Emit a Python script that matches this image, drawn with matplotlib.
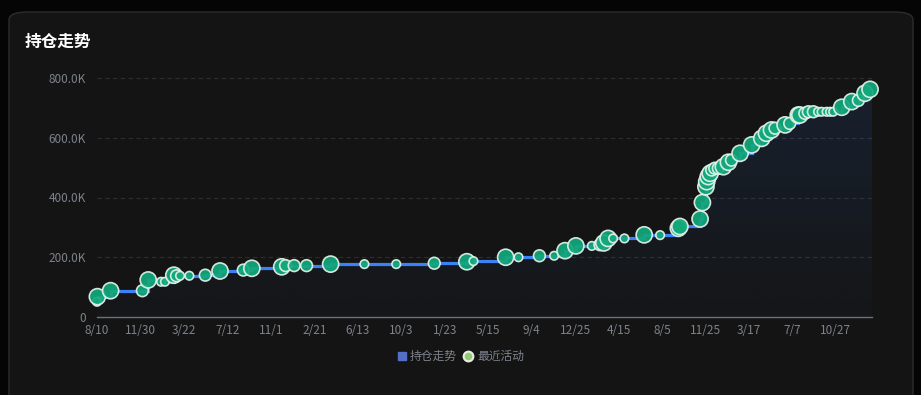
import datetime as dt

import matplotlib.dates as mdates
import matplotlib.pyplot as plt
import numpy as np
from matplotlib.patches import FancyBboxPatch
from matplotlib.ticker import FuncFormatter, MultipleLocator

plt.rcParams["font.family"] = ["Noto Sans CJK SC", "DejaVu Sans"]

title = "持仓走势"
series_line = "持仓走势"
series_dots = "最近活动"

# holding value at each recent activity (date, value), activity size 1..3
dates = [
    "2020-08-10", "2020-08-11", "2020-09-14", "2020-12-05", "2020-12-20",
    "2021-01-22", "2021-02-01", "2021-02-24", "2021-03-03", "2021-03-12",
    "2021-04-05", "2021-05-16", "2021-06-23", "2021-08-22", "2021-09-13",
    "2021-11-29", "2021-12-09", "2021-12-31", "2022-02-01", "2022-04-04",
    "2022-06-30", "2022-09-20", "2022-12-27", "2023-03-21", "2023-04-07",
    "2023-06-29", "2023-08-01", "2023-09-24", "2023-11-01", "2023-11-29",
    "2023-12-27", "2024-02-06", "2024-02-27", "2024-03-08", "2024-03-19",
    "2024-04-01", "2024-04-30", "2024-06-20", "2024-07-31", "2024-09-16",
    "2024-09-20", "2024-11-11", "2024-11-17", "2024-11-26", "2024-11-28",
    "2024-12-02", "2024-12-07", "2024-12-11", "2024-12-19", "2024-12-28",
    "2025-01-10", "2025-01-23", "2025-01-31", "2025-02-22", "2025-03-24",
    "2025-04-19", "2025-05-01", "2025-05-14", "2025-05-23", "2025-06-18",
    "2025-06-30", "2025-07-22", "2025-07-26", "2025-08-08", "2025-08-17",
    "2025-08-30", "2025-09-11", "2025-09-20", "2025-10-03", "2025-10-12",
    "2025-10-20", "2025-11-11", "2025-12-07", "2025-12-24", "2026-01-10",
    "2026-01-23",
]
values = [
    51, 68, 88, 88, 124, 118, 118, 140, 138, 138,
    138, 140, 154, 157, 163, 168, 172, 172, 172, 177,
    177, 177, 180, 185, 187, 200, 200, 205, 205, 222,
    238, 238, 242, 248, 263, 263, 263, 275, 274, 297,
    303, 328, 383, 436, 453, 470, 481, 492, 498, 498,
    503, 518, 525, 548, 576, 598, 615, 626, 632, 643,
    648, 676, 676, 682, 687, 687, 687, 687, 687, 687,
    687, 702, 721, 725, 749, 762,
]
activity = [
    1, 3, 3, 2, 3, 1, 1, 3, 2, 1,
    1, 2, 3, 2, 3, 3, 2, 2, 2, 3,
    1, 1, 2, 3, 1, 3, 1, 2, 1, 3,
    3, 1, 2, 3, 3, 1, 1, 3, 1, 3,
    3, 3, 3, 3, 3, 3, 3, 2, 2, 2,
    3, 3, 2, 3, 3, 3, 3, 3, 2, 3,
    2, 3, 3, 2, 2, 2, 1, 1, 1, 1,
    1, 3, 3, 2, 3, 3,
]

x = [dt.datetime.strptime(d, "%Y-%m-%d") for d in dates]
y = np.array(values) * 1000.0
start = x[0]
end = x[-1] + dt.timedelta(days=5)

fig = plt.figure(figsize=(9.21, 3.95), dpi=100, facecolor="#050505")

# card background
card = FancyBboxPatch(
    (9 / 921, -0.05), 904 / 921, 1.05 - 12 / 395,
    boxstyle="round,pad=0,rounding_size=0.02",
    transform=fig.transFigure, facecolor="#141414",
    edgecolor="#2c2c2e", linewidth=1.0, zorder=-5,
)
fig.patches.append(card)
fig.text(25 / 921, 1 - 42 / 395, title, color="white", fontsize=12,
         fontweight="bold", va="center", ha="left")

ax = fig.add_axes([97 / 921, 1 - 317 / 395, 775 / 921, 239 / 395])
ax.set_facecolor("none")

# gradient area under the step line
xs = mdates.date2num(x + [end])
ys = np.append(y, y[-1])
poly = ax.fill_between(xs, ys, 0, step="post", facecolor="none", edgecolor="none")
grad = np.linspace(0.02, 0.12, 256).reshape(-1, 1)
rgba = np.zeros((256, 1, 4))
rgba[..., 0] = 59 / 255
rgba[..., 1] = 130 / 255
rgba[..., 2] = 246 / 255
rgba[..., 3] = grad
img = ax.imshow(rgba, extent=[xs[0], xs[-1], 0, 800000], origin="lower",
                aspect="auto", zorder=1)
img.set_clip_path(poly.get_paths()[0], transform=ax.transData)

ax.step(xs[:-1], y, where="post", color="#3b82f6", linewidth=2.3,
        zorder=2, solid_joinstyle="miter")

size_map = {1: 38, 2: 72, 3: 135}
ax.scatter(x, y, s=[size_map[a] for a in activity], facecolor="#12a97c",
           edgecolor="#e3f3ea", linewidth=1.2, alpha=0.92, zorder=3,
           clip_on=False)

ax.set_ylim(0, 800000)
ax.set_xlim(mdates.date2num(start), mdates.date2num(end))
ax.yaxis.set_major_locator(MultipleLocator(200000))
ax.yaxis.set_major_formatter(
    FuncFormatter(lambda v, p: "0" if v == 0 else f"{v / 1000:.1f}K"))

ticks = [start + dt.timedelta(days=112 * i) for i in range(18)]
ax.set_xticks(mdates.date2num(ticks))
ax.set_xticklabels([f"{t.month}/{t.day}" for t in ticks])

ax.grid(axis="y", color="#2e2e2e", linestyle=(0, (4, 3)), linewidth=0.8)
ax.set_axisbelow(True)
for side in ("top", "right", "left"):
    ax.spines[side].set_visible(False)
ax.spines["bottom"].set_color("#6e7079")
ax.spines["bottom"].set_linewidth(1.0)
ax.tick_params(axis="both", length=0, colors="#7d828c", labelsize=8.5)
ax.tick_params(axis="x", pad=5)
ax.tick_params(axis="y", pad=8)

# legend
lx, ly = 402 / 921, 1 - 356 / 395
fig.patches.append(plt.Rectangle((lx - 4 / 921, ly - 4 / 395), 8 / 921, 8 / 395,
                                 transform=fig.transFigure, color="#5470c6"))
fig.text(lx + 8 / 921, ly, series_line, color="#7d828c", fontsize=8.5,
         va="center", ha="left")
fig.lines.append(plt.Line2D([468 / 921], [ly], marker="o", markersize=7,
                            markerfacecolor="#91cc75", markeredgecolor="#e8eee0",
                            markeredgewidth=1.5, transform=fig.transFigure))
fig.text(477 / 921, ly, series_dots, color="#7d828c", fontsize=8.5,
         va="center", ha="left")

plt.savefig("out.png", dpi=100, facecolor=fig.get_facecolor())
